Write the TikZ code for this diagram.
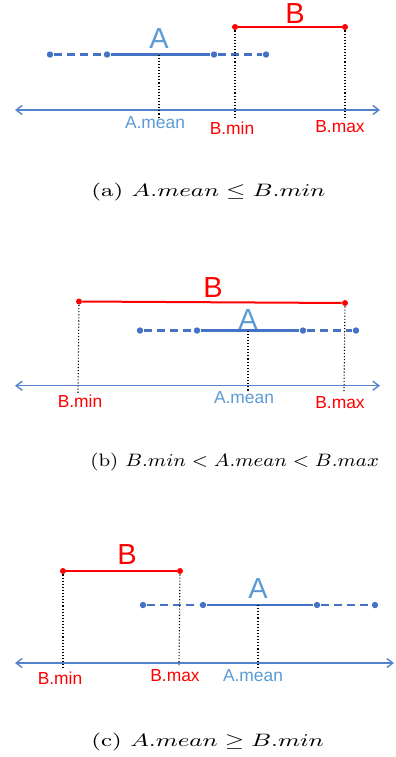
\documentclass[tikz,border=0pt]{standalone}
\usepackage{fontspec}
\usepackage{xcolor}
\usepackage{tikz}
\usetikzlibrary{arrows.meta}
\newfontfamily\labelfont{Liberation Sans}
\definecolor{ablue}{RGB}{68,114,196}
\definecolor{alight}{RGB}{91,155,213}
\definecolor{axisblue}{RGB}{84,130,205}

\begin{document}
\begin{tikzpicture}[
        x=0.5pt, y=-0.5pt,
        adot/.style={circle, fill=ablue, inner sep=0pt, minimum size=3.2pt},
        bdot/.style={circle, fill=red, inner sep=0pt, minimum size=3pt},
        aline/.style={draw=ablue, line width=1.1pt},
        adash/.style={aline, dash pattern=on 4pt off 2.6pt},
        bline/.style={draw=red, line width=1pt},
        guide/.style={densely dotted, line width=0.55pt, black},
        axis/.style={draw=axisblue, line width=0.7pt, {Straight Barb[length=3pt,width=4.5pt]}-{Straight Barb[length=3pt,width=4.5pt]}},
        bigA/.style={font=\labelfont\fontsize{14.5}{17}\selectfont, text=alight, inner sep=0pt},
        bigB/.style={font=\labelfont\fontsize{14.5}{17}\selectfont, text=red, inner sep=0pt},
        alabel/.style={font=\labelfont\fontsize{8.7}{10}\selectfont, text=alight, inner sep=0pt},
        blabel/.style={font=\labelfont\fontsize{8.7}{10}\selectfont, text=red, inner sep=0pt},
        caption/.style={anchor=west, inner sep=0pt, font=\fontsize{9}{11}\selectfont}
    ]
    \useasboundingbox (0,0) rectangle (396,757);

    % (a)
    \coordinate (ax1l) at (15,110);
    \coordinate (ax1r) at (380,110);
    \node (a1l) [adot] at (50,54.5) {};
    \node (a1s) [adot] at (107,54.5) {};
    \node (a1e) [adot] at (214,54.5) {};
    \node (a1r) [adot] at (266,54.5) {};
    \coordinate (a1m) at (159,54.5);
    \coordinate (a1foot) at (159,117);
    \node (b1min) [bdot] at (235,27) {};
    \node (b1max) [bdot] at (345,27) {};
    \coordinate (b1minfoot) at (235,119);
    \coordinate (b1maxfoot) at (345,118);
    \node (a1name) [bigA] at (159,39) {A};
    \node (b1name) [bigB] at (295,14) {B};
    \node (a1mean) [alabel] at (155,123) {A.mean};
    \node (b1minl) [blabel] at (232,128.5) {B.min};
    \node (b1maxl) [blabel] at (340,127) {B.max};

    \draw [axis] (ax1l) -- (ax1r);
    \draw [adash] (a1l) -- (a1s);
    \draw [aline] (a1s) -- (a1e);
    \draw [adash] (a1e) -- (a1r);
    \draw [bline] (b1min) -- (b1max);
    \draw [guide] (a1m) -- (a1foot);
    \draw [guide] (b1min) -- (b1minfoot);
    \draw [guide] (b1max) -- (b1maxfoot);
    \node (cap1) [caption] at (91,192) {\scalebox{1.35}[1]{(a) $A.mean \leq B.min$}};

    % (b)
    \coordinate (ax2l) at (15,385.7);
    \coordinate (ax2r) at (380,385.7);
    \node (a2l) [adot] at (140,330.5) {};
    \node (a2s) [adot] at (197,330.5) {};
    \node (a2e) [adot] at (303,330.5) {};
    \node (a2r) [adot] at (356,330.5) {};
    \coordinate (a2m) at (248,330.5);
    \coordinate (a2foot) at (248,392);
    \node (b2min) [bdot] at (79,301.5) {};
    \node (b2max) [bdot] at (345,303) {};
    \coordinate (b2minfoot) at (78,393);
    \coordinate (b2maxfoot) at (344,392);
    \node (a2name) [bigA] at (248,320) {A};
    \node (b2name) [bigB] at (213,288) {B};
    \node (a2mean) [alabel] at (244,398) {A.mean};
    \node (b2minl) [blabel] at (80,401) {B.min};
    \node (b2maxl) [blabel] at (340,403) {B.max};

    \draw [axis] (ax2l) -- (ax2r);
    \draw [adash] (a2l) -- (a2s);
    \draw [aline] (a2s) -- (a2e);
    \draw [adash] (a2e) -- (a2r);
    \draw [bline] (b2min) -- (b2max);
    \draw [guide] (a2m) -- (a2foot);
    \draw [guide] (b2min) -- (b2minfoot);
    \draw [guide] (b2max) -- (b2maxfoot);
    \node (cap2) [caption] at (90,462) {\scalebox{1.13}[1]{(b) $B.min < A.mean < B.max$}};

    % (c)
    \coordinate (ax3l) at (15,663);
    \coordinate (ax3r) at (394,663);
    \node (a3l) [adot] at (143,605) {};
    \node (a3s) [adot] at (203,605) {};
    \node (a3e) [adot] at (317,605) {};
    \node (a3r) [adot] at (375,605) {};
    \coordinate (a3m) at (258,605);
    \coordinate (a3foot) at (258,670);
    \node (b3min) [bdot] at (63,571) {};
    \node (b3max) [bdot] at (180,571) {};
    \coordinate (b3minfoot) at (63,668);
    \coordinate (b3maxfoot) at (179,665);
    \node (a3name) [bigA] at (258,589) {A};
    \node (b3name) [bigB] at (127,555) {B};
    \node (a3mean) [alabel] at (253,676) {A.mean};
    \node (b3minl) [blabel] at (60,678) {B.min};
    \node (b3maxl) [blabel] at (175,676) {B.max};

    \draw [axis] (ax3l) -- (ax3r);
    \draw [adash] (a3l) -- (a3s);
    \draw [aline] (a3s) -- (a3e);
    \draw [adash] (a3e) -- (a3r);
    \draw [bline] (b3min) -- (b3max);
    \draw [guide] (a3m) -- (a3foot);
    \draw [guide] (b3min) -- (b3minfoot);
    \draw [guide] (b3max) -- (b3maxfoot);
    \node (cap3) [caption] at (91,742) {\scalebox{1.35}[1]{(c) $A.mean \geq B.min$}};

\end{tikzpicture}
\end{document}
